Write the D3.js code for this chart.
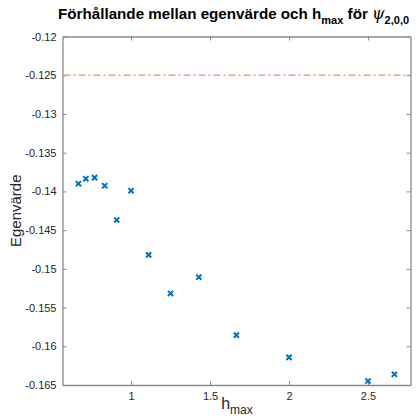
<!DOCTYPE html>
<html>
<head>
<meta charset="utf-8">
<script src="https://cdn.jsdelivr.net/npm/d3@7"></script>
<style>
  body { margin: 0; background: #fff; }
  text { font-family: "Liberation Sans", Arial, sans-serif; }
</style>
</head>
<body>
<svg id="svg" width="416" height="419"></svg>
<script>
// data
var hmax = [0.667, 0.714, 0.769, 0.833, 0.909, 1.0, 1.111, 1.25, 1.429, 1.667, 2.0, 2.5, 2.667];
var egenvarde = [-0.13901, -0.13836, -0.13823, -0.13927, -0.14369, -0.13991, -0.1482, -0.15318, -0.15108, -0.15856, -0.16143, -0.16449, -0.16362];
var reference = -0.125;
var xTicks = [1, 1.5, 2, 2.5];
var yTicks = [-0.12, -0.125, -0.13, -0.135, -0.14, -0.145, -0.15, -0.155, -0.16, -0.165];

var margin = {left: 62.5, right: 5.5, top: 36.5, bottom: 34};
var width = 416, height = 419;
var svg = d3.select("#svg");

var x = d3.scaleLinear().domain([0.566, 2.769]).range([margin.left, width - margin.right]);
var y = d3.scaleLinear().domain([-0.165, -0.12]).range([height - margin.bottom, margin.top]);

var axisColor = "#8a8a8a";
var labelColor = "#262626";

function styleAxis(g, hideText) {
  g.select(".domain").attr("stroke", axisColor).attr("stroke-width", 1.3);
  g.selectAll(".tick line").attr("stroke", axisColor).attr("stroke-width", 1);
  g.selectAll(".tick text").attr("fill", labelColor).attr("font-size", 11);
  if (hideText) g.selectAll(".tick text").remove();
}

// bottom axis
svg.append("g")
  .attr("transform", "translate(0," + y(-0.165) + ")")
  .call(d3.axisBottom(x).tickValues(xTicks).tickSizeInner(-4).tickSizeOuter(0).tickPadding(7)
    .tickFormat(d3.format("")))
  .call(function (g) { styleAxis(g, false); });

// top axis
svg.append("g")
  .attr("transform", "translate(0," + y(-0.12) + ")")
  .call(d3.axisTop(x).tickValues(xTicks).tickSizeInner(-4).tickSizeOuter(0))
  .call(function (g) { styleAxis(g, true); });

// left axis
svg.append("g")
  .attr("transform", "translate(" + x(0.566) + ",0)")
  .call(d3.axisLeft(y).tickValues(yTicks).tickSizeInner(-4).tickSizeOuter(0).tickPadding(6)
    .tickFormat(function (d) { return String(+d.toFixed(3)); }))
  .call(function (g) { styleAxis(g, false); });

// right axis
svg.append("g")
  .attr("transform", "translate(" + x(2.769) + ",0)")
  .call(d3.axisRight(y).tickValues(yTicks).tickSizeInner(-4).tickSizeOuter(0))
  .call(function (g) { styleAxis(g, true); });

// reference line
svg.append("line")
  .attr("x1", x(0.566) + 1)
  .attr("x2", x(2.769) - 1)
  .attr("y1", y(reference))
  .attr("y2", y(reference))
  .attr("stroke", "#e8906a")
  .attr("stroke-width", 1.2)
  .attr("stroke-dasharray", "7,3,2,3");

// markers
var s = 2.6;
var marks = svg.append("g");
hmax.forEach(function (h, i) {
  var cx = x(h), cy = y(egenvarde[i]);
  marks.append("path")
    .attr("d", "M" + (cx - s) + "," + (cy - s) + "L" + (cx + s) + "," + (cy + s) +
               "M" + (cx - s) + "," + (cy + s) + "L" + (cx + s) + "," + (cy - s))
    .attr("stroke", "#0072bd")
    .attr("stroke-width", 2)
    .attr("fill", "none");
});

// title
var title = svg.append("text")
  .attr("x", 58)
  .attr("y", 19)
  .attr("text-anchor", "start")
  .attr("font-size", 15.2)
  .attr("font-weight", "bold")
  .attr("fill", "#000");
title.append("tspan").text("Förhållande mellan egenvärde och h");
title.append("tspan").attr("font-size", 11).attr("dy", 5).text("max");
title.append("tspan").attr("dy", -5).text(" för ");
title.append("tspan").attr("font-family", "DejaVu Serif").attr("font-style", "italic")
  .attr("font-weight", "normal").attr("font-size", 16).text("ψ");
title.append("tspan").attr("font-size", 11).attr("dy", 5).text("2,0,0");

// keep the title inside the window
var tw = title.node().getComputedTextLength();
if (58 + tw > 414) {
  title.attr("textLength", 356).attr("lengthAdjust", "spacingAndGlyphs");
}

// y label
svg.append("text")
  .attr("transform", "translate(21," + ((y(-0.12) + y(-0.165)) / 2) + ") rotate(-90)")
  .attr("text-anchor", "middle")
  .attr("font-size", 15)
  .attr("fill", labelColor)
  .text("Egenvärde");

// x label
var xl = svg.append("text")
  .attr("x", 237)
  .attr("y", 409)
  .attr("text-anchor", "middle")
  .attr("font-size", 16)
  .attr("fill", labelColor);
xl.append("tspan").text("h");
xl.append("tspan").attr("font-size", 12).attr("dy", 5).text("max");
</script>
</body>
</html>
